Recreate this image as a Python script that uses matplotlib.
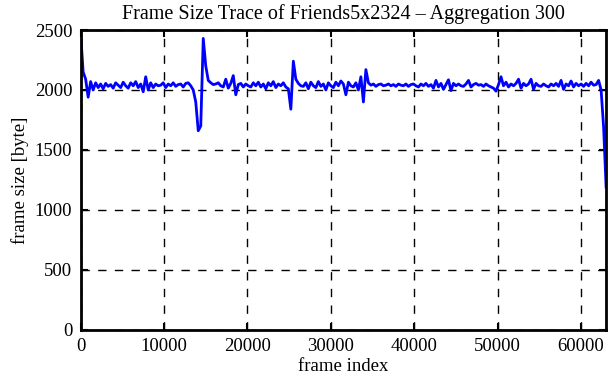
import numpy as np
import matplotlib
matplotlib.use("Agg")
import matplotlib.pyplot as plt

aggregation = 300
frame_sizes = [
    2470, 2150, 2090, 1940, 2070, 2000, 2060, 2020, 2050, 2010,
    2055, 2030, 2045, 2015, 2060, 2040, 2020, 2065, 2035, 2015,
    2060, 2035, 2070, 2020, 2050, 1985, 2110, 2000, 2060, 2020,
    2050, 2035, 2040, 2060, 2020, 2050, 2035, 2060, 2030, 2045,
    2050, 2025, 2055, 2060, 2035, 2000, 1900, 1660, 1700, 2430,
    2200, 2080, 2060, 2045, 2050, 2060, 2035, 2025, 2090, 2015,
    2055, 2120, 1960, 2045, 2055, 2025, 2050, 2035, 2025, 2060,
    2035, 2065, 2025, 2050, 2010, 2060, 2035, 2070, 2020, 2050,
    2035, 2060, 2025, 2010, 1840, 2240, 2090, 2055, 2035, 2030,
    2060, 2010, 2065, 2035, 2020, 2070, 2030, 2050, 2000, 2060,
    2035, 2020, 2065, 2035, 2075, 2050, 1960, 2065, 2035, 2025,
    2060, 2000, 2110, 1900, 2170, 2060, 2040, 2050, 2030, 2045,
    2050, 2035, 2040, 2050, 2035, 2045, 2030, 2050, 2040, 2035,
    2050, 2030, 2045, 2050, 2035, 2025, 2050, 2035, 2055, 2030,
    2045, 2015, 2080, 2025, 2055, 2005, 2045, 2085, 1995, 2055,
    2035, 2050, 2035, 2030, 2050, 2080, 2025, 2045, 2055, 2040,
    2045, 2030, 2050, 2035, 2025, 2015, 1990, 2045, 2110, 2035,
    2065, 2025, 2050, 2035, 2055, 2090, 2015, 2055, 2035, 2050,
    2090, 2005, 2055, 2035, 2030, 2050, 2035, 2025, 2050, 2035,
    2055, 2030, 2080, 2005, 2050, 2035, 2075, 2025, 2055, 2035,
    2050, 2030, 2055, 2035, 2065, 2040, 2045, 2080, 2000, 1690,
    1190,
]
frame_index = np.arange(len(frame_sizes)) * aggregation

xticks = [0, 10000, 20000, 30000, 40000, 50000, 60000]
yticks = [0, 500, 1000, 1500, 2000, 2500]

plt.rcParams['font.family'] = ['Liberation Serif', 'DejaVu Serif']

fig = plt.figure(figsize=(6.11, 3.80), dpi=100)
ax = fig.add_axes([0.132, 0.132, 0.860, 0.789])
ax.plot(frame_index, frame_sizes, color='#0000ff', linewidth=2.0)
ax.set_xlim(0, frame_index[-1])
ax.set_ylim(0, 2500)
ax.set_xticks(xticks)
ax.set_yticks(yticks)
ax.grid(True, color='black', linestyle=(0, (6, 6)), linewidth=1.0)
ax.tick_params(direction='in', length=5, width=1.5, labelsize=13.5,
               top=True, right=True, pad=6)
for s in ax.spines.values():
    s.set_linewidth(2.0)
ax.set_xlabel('frame index', fontsize=13.5, labelpad=2)
ax.set_ylabel('frame size [byte]', fontsize=13.5, labelpad=4)
ax.set_title('Frame Size Trace of Friends5x2324 \u2013 Aggregation 300', fontsize=14.5, pad=8)
fig.savefig('out.png', dpi=100)
